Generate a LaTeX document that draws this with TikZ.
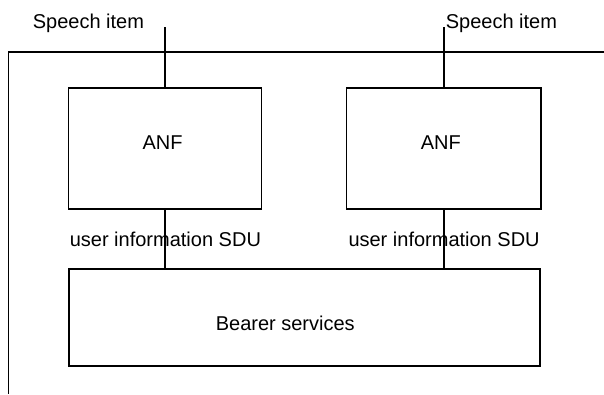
\documentclass[tikz,border=0pt]{standalone}
\usepackage{fontspec}
\setmainfont{Liberation Sans}
\begin{document}
\begin{tikzpicture}[x=1bp,y=-1bp,
  line width=1.6bp,
  every node/.style={font=\fontsize{20bp}{24bp}\selectfont},
  blockbox/.style={draw,line width=1.6bp,inner sep=0pt,minimum width=#1},
  lbl/.style={anchor=base west,inner sep=0pt}]
\useasboundingbox (0,0) rectangle (604,394);

% outer boundary (top and left edges)
\coordinate (ftr) at (604,51.7);
\coordinate (ftl) at (8.3,51.7);
\coordinate (fbl) at (8.3,394);
\draw (ftr) -- (ftl) -- (fbl);

% ANF blocks and bearer block
\node[blockbox=194,minimum height=121bp] (anfL) at (165,148.5) {};
\node[blockbox=195,minimum height=121bp] (anfR) at (443.8,148.5) {};
\node[blockbox=473,minimum height=97bp] (bearer) at (304.5,317.5) {};

\node[lbl] (anfLt) at (141.7,149) {ANF};
\node[lbl] (anfRt) at (420,149) {ANF};
\node[lbl] (bearert) at (215,330) {Bearer services};

% speech item inputs
\coordinate (spL) at (165,27);
\coordinate (spR) at (443.8,27);
\node[lbl] (spLt) at (32,28) {Speech item};
\node[lbl] (spRt) at (445,28) {Speech item};
\draw (spL) -- (anfL.north);
\draw (spR) -- (anfR.north);

% user information SDU links
\draw (anfL.south) -- (anfL.south |- bearer.north);
\draw (anfR.south) -- (anfR.south |- bearer.north);
\node[lbl] (sduL) at (69,246.7) {user information SDU};
\node[lbl] (sduR) at (347.7,246.7) {user information SDU};
\end{tikzpicture}
\end{document}
